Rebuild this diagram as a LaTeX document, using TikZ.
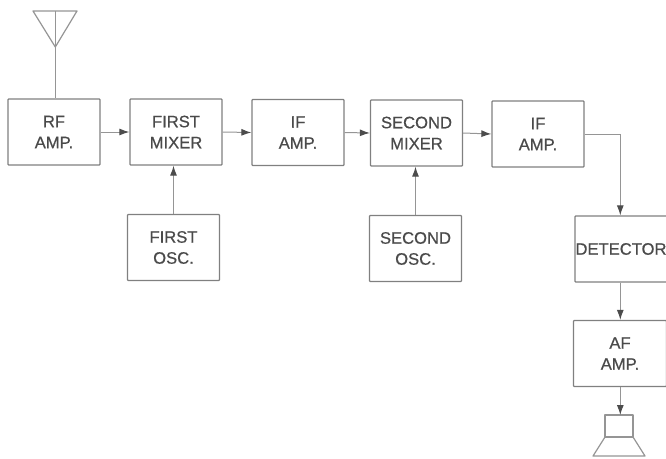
\documentclass[tikz,border=0pt]{standalone}
\usepackage{fontspec}
\setmainfont[FakeBold=0.6,AutoFakeBold=0.6]{Liberation Sans}
\usetikzlibrary{arrows.meta,calc}
\definecolor{linegray}{HTML}{808080}
\definecolor{wiregray}{HTML}{959595}
\definecolor{textgray}{HTML}{4A4A4A}
\tikzset{
  blockbox/.style={draw=linegray,line width=1.3pt,rounded corners=0.8pt,minimum width=#1,minimum height=66pt,inner sep=0pt,align=center,text=textgray,font=\fontsize{16.6}{21}\selectfont\bfseries},
  blockbox/.default=92pt,
  flow/.style={draw=wiregray,line width=1pt,-{Latex[length=10pt,width=7pt,color=black!70]}},
  plain/.style={draw=wiregray,line width=1.2pt,line join=round}
}
\begin{document}
\begin{tikzpicture}[x=1pt,y=-1pt]
\useasboundingbox (0,0) rectangle (666,458);
\node[blockbox] (rf) at (54,132) {RF\\AMP.};
\node[blockbox] (fm) at (176,132) {FIRST\\MIXER};
\node[blockbox] (if1) at (298,132.5) {IF\\AMP.};
\node[blockbox] (sm) at (416.5,133) {SECOND\\MIXER};
\node[blockbox] (if2) at (538,134) {IF\\AMP.};
\node[blockbox] (fo) at (173.5,247.5) {FIRST\\OSC.};
\node[blockbox] (so) at (415.5,248.5) {SECOND\\OSC.};
\node[blockbox=92pt] (det) at (621,249) {DETECTOR};
\node[blockbox=93pt] (af) at (620,353.5) {AF\\AMP.};
% antenna
\coordinate (anttop) at (55.3,11);
\draw[plain] (33,11) -- (77,11) -- (55.3,47) -- cycle;
\draw[plain] (anttop) -- (rf.north -| anttop);
% signal path
\coordinate (drop) at (620.3,180);
\draw[flow] (rf.east) -- (fm.west);
\draw[flow] (fm.east) -- (if1.west);
\draw[flow] (if1.east) -- (sm.west);
\draw[flow] (sm.east) -- (if2.west);
\draw[flow] (fo.north) -- (fo.north |- fm.south);
\draw[flow] (so.north) -- (so.north |- sm.south);
\draw[flow] (if2.east) -| (det.north -| drop);
\draw[flow] (det.south -| drop) -- (af.north -| drop);
% speaker
\coordinate (spk) at (620.3,415);
\draw[plain] (605,437) -- (605,415) -- (633,415) -- (633,437) -- cycle;
\draw[plain] (605,437) -- (593,456) -- (645,456) -- (633,437);
\draw[flow] (af.south -| spk) -- (spk);
\end{tikzpicture}
\end{document}
